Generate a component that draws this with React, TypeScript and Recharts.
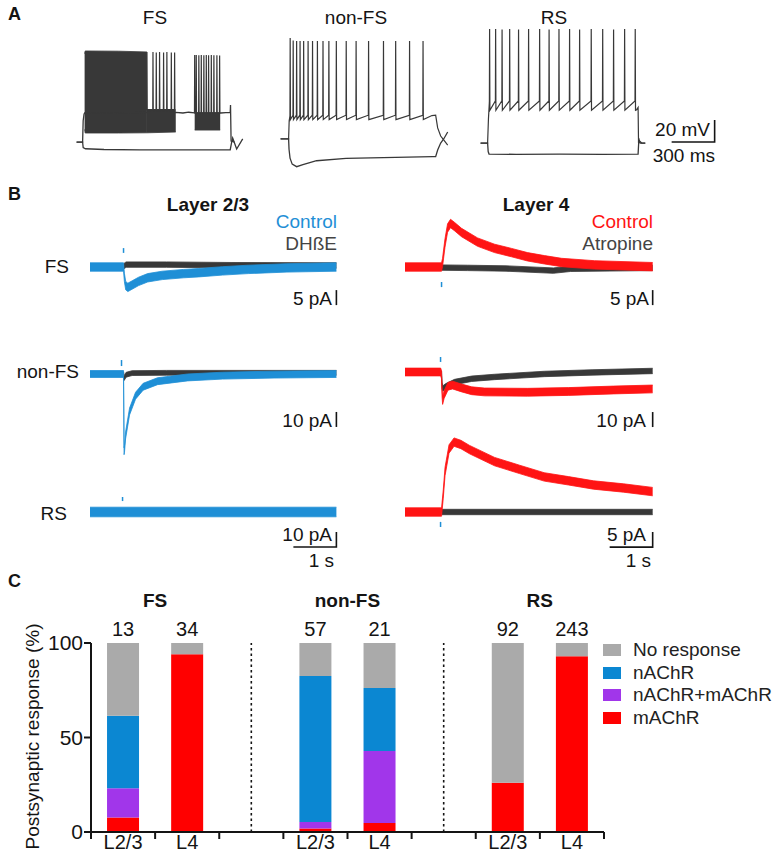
import React from 'react';
import {
  ComposedChart,
  Line,
  Area,
  XAxis,
  YAxis,
  BarChart,
  Bar,
  ReferenceLine,
  Legend,
  LabelList,
} from 'recharts';

const FONT = '"Liberation Sans", Arial, Helvetica, sans-serif';
const INK = '#141414';
const TRACE = '#383838';
const BLUE = '#1f8fd6';
const RED = '#ff1414';

type Pt = { t: number; v: number };
const P = (pairs: number[][]): Pt[] => pairs.map(([t, v]) => ({ t, v }));

// ---------------- Panel A: current-clamp responses (t in ms from step onset, v in mV)
const fsHyper = P([[-42, -71.4], [0, -71.4], [4, -76.5], [20, -77.5], [150, -78.2], [400, -78.6], [700, -78.5], [1030, -78.4], [1040, -71.4], [1047, -67.7], [1075, -77.7], [1117, -68.6]]);
const fsPlateau = P([[-42, -71.4], [0, -71.4], [4, -52], [10, -46], [14, -45], [650, -44.5], [700, -45], [740, -44.3], [782, -44.8], [963, -45], [1000, -44.6], [1030, -44.6], [1032, -37.7], [1036, -70.5], [1060, -71.4]]);
const fsBlockMain = [{ t: 14, lo: -60, hi: 9 }, { t: 18, lo: -63.2, hi: 11.4 }, { t: 250, lo: -63.2, hi: 11.2 }, { t: 449, lo: -63, hi: 10.5 }];
const fsBlockTail = [{ t: 449, lo: -63, hi: -42 }, { t: 650, lo: -62.3, hi: -42 }];
const fsBlockBurst2 = [{ t: 782, lo: -60.5, hi: -45 }, { t: 960, lo: -60.5, hi: -45 }];
const fsLateSpikeTimes = [449, 491, 514, 537, 565, 588, 619, 642];
const fsLateSpikePeaks = [10.5, 10.5, 10, 10.5, 10, 10.5, 10, 10];
const fsBurst2SpikeTimes = [782, 793, 811, 828, 846, 863, 879, 898, 916, 937, 956];
const fsBurst2SpikePeaks = [7.7, 7.7, 7.5, 7.7, 7.5, 7.7, 7.5, 7.7, 7.5, 7.5, 7.3];

const nfsHyper = P([[-56, -68.6], [0, -68.6], [3, -78], [10, -86], [25, -91.5], [56, -93.8], [100, -92], [195, -88.4], [401, -86.2], [747, -85.3], [1005, -84.7], [1026, -84.7], [1040, -78.6], [1061, -72.3], [1082, -68.6], [1110, -62.3]]);
const nfsStart = P([[-56, -68.6], [0, -68.6], [4, -52], [9, -48]]);
const nfsEnd = P([[1000, -47.3], [1026, -47], [1040, -58.6], [1061, -65.9], [1082, -69.5], [1110, -74.1]]);
const nfsSpikeTimes = [11, 32, 56, 80, 105, 136, 167, 201, 240, 281, 333, 402, 471, 558, 662, 747, 844, 938];
const nfsSpikePeaks = [23.2, 21, 20.5, 20.5, 20.5, 20.5, 20.5, 20.5, 20.5, 20.5, 20.5, 20.5, 20.5, 20.5, 20.5, 20.5, 20.5, 20.5];

const rsHyper = P([[-49, -72.3], [0, -72.3], [4, -80], [10, -82.3], [200, -82.6], [500, -82.4], [800, -82.6], [1050, -82.3], [1054, -72.3], [1060, -70.5], [1075, -72.3], [1100, -72.3]]);
const rsStart = P([[-49, -72.3], [0, -72.3], [6, -50], [12, -36]]);
const rsEnd = P([[1040, -42], [1050, -40], [1053, -72.3], [1058, -69.6], [1064, -72.3], [1100, -72.3]]);
const rsSpikeTimes = [14, 56, 101, 154, 216, 286, 363, 429, 498, 572, 642, 723, 803, 879, 956, 1030];
const rsSpikePeaks = [31.4, 31.4, 31, 31.4, 31, 31.4, 31.4, 31, 31.4, 31.4, 31, 31.4, 31.4, 31, 31.4, 31.4];

const scaleBarA = P([[1284, -71.4], [1584, -71.4], [1584, -51.4]]); // 300 ms, 20 mV

// ---------------- Panel B: voltage-clamp currents (t in ms from stimulus, I in pA)
const l23FsControl = P([[-780, 0], [0, 0], [20, -3.5], [50, -6.2], [100, -6.8], [200, -6], [350, -4.8], [560, -3.6], [900, -2.8], [1400, -2.2], [1750, -1.9], [2300, -1.3], [2900, -0.8], [3800, -0.3], [4950, 0]]);
const l23FsDhbe = P([[0, 0.2], [60, 0.8], [1000, 0.8], [2500, 0.6], [4950, 0.5]]);
const l4FsControl = P([[-850, 0], [0, 0], [23, 1.5], [80, 8], [140, 13], [209, 14.5], [300, 13.5], [465, 11.5], [837, 8.3], [1233, 6.2], [1628, 4.8], [2000, 3.4], [2395, 2.4], [2791, 1.5], [3558, 0.7], [4910, 0.1]]);
const l4FsAtropine = P([[0, -0.2], [600, -0.3], [1500, -0.5], [2600, -1.2], [3000, -0.6], [4910, -0.3]]);

const l23NfsControl = P([[-780, 0], [0, 0], [6, -25], [12, -51.5], [22, -50], [47, -41], [140, -25], [279, -14.5], [456, -8.5], [791, -4.8], [1488, -2.3], [2302, -1.1], [3500, -0.4], [4950, 0]]);
const l23NfsDhbe = P([[0, 0], [15, -2.7], [60, -0.5], [200, 0.6], [1000, 0.8], [4950, 0.8]]);
const l4NfsControl = P([[-850, 0], [-20, 0], [0, -2], [12, -14], [25, -19], [60, -15], [150, -9.5], [256, -8.7], [450, -10.5], [700, -12.5], [1000, -13.3], [2000, -13.5], [2950, -13], [4000, -12], [4910, -11.3]]);
const l4NfsAtropine = P([[0, -1], [12, -9], [30, -11], [100, -9.5], [302, -6.7], [700, -4.5], [1233, -3.3], [2395, -1.3], [3500, -0.3], [4910, 0.7]]);

const l23RsControl = P([[-780, 0], [4950, 0]]);
const l4RsControl = P([[-850, 0], [0, 0], [40, 6], [81, 13.5], [174, 21], [291, 23.3], [450, 22.5], [651, 20.8], [1233, 16.8], [1814, 14.2], [2386, 11.7], [2953, 10.4], [3535, 9], [4233, 8], [4910, 6.8]]);
const l4RsAtropine = P([[0, 0], [4910, 0]]);

const stimL23Fs = P([[0, 6.3], [0, 4.7]]);
const stimL4Fs = P([[0, -5], [0, -6.7]]);
const stimL23Nfs = P([[-47, 9.3], [-47, 5.3]]);
const stimL4Nfs = P([[-23, 10], [-23, 6.7]]);
const stimL23Rs = P([[-23, 10], [-23, 7.3]]);
const stimL4Rs = P([[-23, -3.3], [-23, -5]]);

const barL23Fs = P([[4950, -7.7], [4950, -12.7]]);
const barL4Fs = P([[4910, -7.7], [4910, -12.7]]);
const barL23Nfs = P([[4950, -25.3], [4950, -35.3]]);
const barL4Nfs = P([[4910, -26.7], [4910, -36.7]]);
const barL23Rs = P([[3950, -23.3], [4950, -23.3], [4950, -13.3]]);
const barL4Rs = P([[3910, -11.7], [4910, -11.7], [4910, -6.7]]);

// ---------------- Panel C: postsynaptic response (%)
const barGroups = ['FS', 'FS', 'non-FS', 'non-FS', 'RS', 'RS'];
const barLayers = ['L2/3', 'L4', 'L2/3', 'L4', 'L2/3', 'L4'];
const mAChR = [7.7, 94.1, 1.8, 4.8, 26.1, 93.0];
const nAChRmAChR = [15.4, 0, 3.5, 38.1, 0, 0];
const nAChR = [38.4, 0, 77.2, 33.3, 0, 0];
const noResponse = [38.5, 5.9, 17.5, 23.8, 73.9, 7.0];
const cellCounts = [13, 34, 57, 21, 92, 243];
const yTicksC = [0, 50, 100];
const legendOrder = ['No response', 'nAChR', 'nAChR+mAChR', 'mAChR'];

const C_GREY = '#aaaaaa';
const C_BLUE = '#0b87d2';
const C_PURPLE = '#a136ea';
const C_RED = '#ff0000';
const legendColors: Record<string, string> = {
  'No response': C_GREY,
  nAChR: C_BLUE,
  'nAChR+mAChR': C_PURPLE,
  mAChR: C_RED,
};

// ---------- helpers
function spikeTrain(start: Pt[], times: number[], peaks: number[], pre: number, trough: number, end: Pt[]): Pt[] {
  const out: Pt[] = [...start];
  times.forEach((t, i) => {
    out.push({ t: t - 1.5, v: pre }, { t, v: peaks[i] }, { t: t + 2, v: trough });
  });
  return [...out, ...end];
}
function toBand(pts: Pt[], n: number) {
  return pts.map((p) => ({ t: p.t, lo: p.v - n, hi: p.v + n }));
}
const bandKey = (d: any) => [d.lo, d.hi];

type Series = { kind: 'line' | 'band'; data: any[]; color: string; width?: number };

function Trace(props: { ox: number; oy: number; kx: number; ky: number; xd: [number, number]; yd: [number, number]; series: Series[] }) {
  const { ox, oy, kx, ky, xd, yd, series } = props;
  const w = (xd[1] - xd[0]) * kx;
  const h = (yd[1] - yd[0]) * ky;
  const left = ox + xd[0] * kx;
  const top = oy - yd[1] * ky;
  return (
    <div style={{ position: 'absolute', left, top, width: w, height: h }}>
      <ComposedChart width={w} height={h} margin={{ top: 0, right: 0, bottom: 0, left: 0 }}>
        <XAxis type="number" dataKey="t" domain={xd} hide />
        <YAxis type="number" domain={yd} hide />
        {series.map((s, i) =>
          s.kind === 'band' ? (
            <Area
              key={i}
              data={s.data}
              dataKey={bandKey}
              type="linear"
              stroke={s.color}
              strokeWidth={0.8}
              fill={s.color}
              fillOpacity={1}
              dot={false}
              activeDot={false}
              isAnimationActive={false}
            />
          ) : (
            <Line
              key={i}
              data={s.data}
              dataKey="v"
              type="linear"
              stroke={s.color}
              strokeWidth={s.width ?? 1.3}
              dot={false}
              activeDot={false}
              isAnimationActive={false}
            />
          )
        )}
      </ComposedChart>
    </div>
  );
}

// Panel A geometry: 300 ms = 43 px, 20 mV = 22 px
const KX_A = 43 / 300;
const KY_A = 22 / 20;
const YD_A: [number, number] = [-100, 35];
const OY_A = 25 + 35 * KY_A;

// Panel B geometry: 1 s = 43 px; 5 pA = 15 px (FS, L4 RS), 10 pA = 15 px (non-FS, L2/3 RS)
const KX_B = 43 / 1000;
const XD_L23: [number, number] = [-780, 4990];
const XD_L4: [number, number] = [-850, 4950];

// ---------- Panel C bits
type Row = { slot: string; layer: string; group?: string; mAChR?: number; both?: number; nAChR?: number; none?: number; n?: number };
const barRows: Row[] = [];
barLayers.forEach((layer, i) => {
  barRows.push({
    slot: barGroups[i] + ' ' + layer,
    layer,
    group: layer === 'L2/3' ? barGroups[i] : undefined,
    mAChR: mAChR[i],
    both: nAChRmAChR[i],
    nAChR: nAChR[i],
    none: noResponse[i],
    n: cellCounts[i],
  });
  if (i === 1 || i === 3) barRows.push({ slot: 'gap' + i, layer: '' });
});

function SlotTick(props: any) {
  const { x, y, payload, index } = props;
  const half = payload && typeof payload.offset === 'number' && payload.offset > 0 ? payload.offset : 32;
  const row = barRows.find((r) => r.slot === payload.value) || barRows[index];
  const isLast = payload.value === barRows[barRows.length - 1].slot;
  return (
    <g>
      <line x1={x - half} x2={x - half} y1={y} y2={y + 7} stroke={INK} strokeWidth={2} />
      {isLast && <line x1={x + half} x2={x + half} y1={y} y2={y + 7} stroke={INK} strokeWidth={2} />}
      <text x={x} y={y + 17} textAnchor="middle" fontSize={20} fill={INK} fontFamily={FONT}>
        {row ? row.layer : ''}
      </text>
    </g>
  );
}

function GroupTitle(props: any) {
  const { value } = props;
  if (!value) return null;
  const vb = props.viewBox || props;
  const x = Number(vb.x);
  const y = Number(vb.y);
  const width = Number(vb.width);
  return (
    <text x={x + width * 1.5} y={y - 36} textAnchor="middle" fontWeight="bold" fontSize={19} fill={INK} fontFamily={FONT}>
      {value}
    </text>
  );
}

function YLabel(props: any) {
  const vb = props.viewBox || { x: 31, y: 73, width: 60, height: 189 };
  const cx = 39;
  const cy = vb.y + vb.height / 2 - 1;
  return (
    <text x={cx} y={cy} transform={`rotate(-90, ${cx}, ${cy})`} textAnchor="middle" fontSize={19} fill={INK} fontFamily={FONT}>
      Postsynaptic response (%)
    </text>
  );
}

function LegendContent(props: any) {
  const payload: any[] = props.payload || [];
  const items = legendOrder.map((name) => {
    const found = payload.find((p) => p.value === name);
    return { value: name, color: (found && found.color) || legendColors[name] };
  });
  return (
    <div style={{ fontFamily: FONT }}>
      {items.map((it) => (
        <div key={it.value} style={{ display: 'flex', alignItems: 'center', height: 22.5, whiteSpace: 'nowrap' }}>
          <span style={{ display: 'inline-block', width: 18, height: 12, background: it.color, marginRight: 12 }} />
          <span style={{ fontSize: 19, color: '#222', lineHeight: '22.5px' }}>{it.value}</span>
        </div>
      ))}
    </div>
  );
}

function PanelC() {
  return (
    <div style={{ position: 'absolute', left: 0, top: 570, width: 776, height: 283 }}>
      <BarChart width={776} height={283} data={barRows} margin={{ top: 73, right: 172, bottom: 0, left: 31 }} barCategoryGap="25%">
        <XAxis
          dataKey="slot"
          type="category"
          interval={0}
          height={21}
          tickLine={false}
          tickSize={0}
          tickMargin={0}
          axisLine={{ stroke: INK, strokeWidth: 2 }}
          tick={<SlotTick />}
        />
        <YAxis
          type="number"
          domain={[0, 100]}
          ticks={yTicksC}
          width={60}
          tickSize={7}
          tickMargin={1}
          axisLine={{ stroke: INK, strokeWidth: 2 }}
          tickLine={{ stroke: INK, strokeWidth: 2 }}
          tick={{ fontSize: 21, fill: INK, fontFamily: FONT }}
          label={{ content: <YLabel /> }}
        />
        <ReferenceLine x="gap1" stroke={INK} strokeWidth={1.6} strokeDasharray="2.5 3" />
        <ReferenceLine x="gap3" stroke={INK} strokeWidth={1.6} strokeDasharray="2.5 3" />
        <Bar dataKey="mAChR" name="mAChR" stackId="s" fill={C_RED} isAnimationActive={false} />
        <Bar dataKey="both" name="nAChR+mAChR" stackId="s" fill={C_PURPLE} isAnimationActive={false} />
        <Bar dataKey="nAChR" name="nAChR" stackId="s" fill={C_BLUE} isAnimationActive={false} />
        <Bar dataKey="none" name="No response" stackId="s" fill={C_GREY} isAnimationActive={false}>
          <LabelList dataKey="n" position="top" offset={7} fontSize={20} fill={INK} fontFamily={FONT} />
          <LabelList dataKey="group" content={<GroupTitle />} />
        </Bar>
        <Legend
          layout="vertical"
          align="center"
          verticalAlign="middle"
          wrapperStyle={{ left: 603, top: 69, width: 175 }}
          content={<LegendContent />}
        />
      </BarChart>
    </div>
  );
}

function Txt(p: { x: number; y: number; a?: 'start' | 'middle' | 'end'; s?: number; b?: boolean; c?: string; children: React.ReactNode }) {
  return (
    <text x={p.x} y={p.y} textAnchor={p.a || 'start'} fontSize={p.s || 19} fontWeight={p.b ? 'bold' : 'normal'} fill={p.c || INK} fontFamily={FONT}>
      {p.children}
    </text>
  );
}

export default function App() {
  const fsLate = spikeTrain([], fsLateSpikeTimes, fsLateSpikePeaks, -42, -42, []);
  const fsB2 = spikeTrain([], fsBurst2SpikeTimes, fsBurst2SpikePeaks, -45, -45, []);
  const nfsDepol = spikeTrain(nfsStart, nfsSpikeTimes, nfsSpikePeaks, -47, -51, nfsEnd);
  const rsDepol = spikeTrain(rsStart, rsSpikeTimes, rsSpikePeaks, -34, -42.5, rsEnd);

  return (
    <div style={{ position: 'absolute', left: 0, top: 0, width: 776, height: 853, background: '#fff', overflow: 'hidden', fontFamily: FONT }}>
      {/* Panel A */}
      <Trace
        ox={83}
        oy={OY_A}
        kx={KX_A}
        ky={KY_A}
        xd={[-60, 1130]}
        yd={YD_A}
        series={[
          { kind: 'line', data: fsHyper, color: TRACE },
          { kind: 'line', data: fsPlateau, color: TRACE },
          { kind: 'band', data: fsBlockMain, color: TRACE },
          { kind: 'band', data: fsBlockTail, color: TRACE },
          { kind: 'band', data: fsBlockBurst2, color: TRACE },
          { kind: 'line', data: fsLate, color: TRACE, width: 1.2 },
          { kind: 'line', data: fsB2, color: TRACE, width: 1.2 },
        ]}
      />
      <Trace
        ox={289}
        oy={OY_A}
        kx={KX_A}
        ky={KY_A}
        xd={[-60, 1130]}
        yd={YD_A}
        series={[
          { kind: 'line', data: nfsHyper, color: TRACE },
          { kind: 'line', data: nfsDepol, color: TRACE, width: 1.2 },
        ]}
      />
      <Trace
        ox={488}
        oy={OY_A}
        kx={KX_A}
        ky={KY_A}
        xd={[-60, 1620]}
        yd={YD_A}
        series={[
          { kind: 'line', data: rsHyper, color: TRACE },
          { kind: 'line', data: rsDepol, color: TRACE, width: 1.2 },
          { kind: 'line', data: scaleBarA, color: INK, width: 1.6 },
        ]}
      />

      {/* Panel B – FS row */}
      <Trace
        ox={124}
        oy={267}
        kx={KX_B}
        ky={3}
        xd={XD_L23}
        yd={[-15, 20]}
        series={[
          { kind: 'band', data: toBand(l23FsDhbe, 0.9), color: TRACE },
          { kind: 'band', data: toBand(l23FsControl, 1.4), color: BLUE },
          { kind: 'line', data: stimL23Fs, color: BLUE, width: 1.5 },
          { kind: 'line', data: barL23Fs, color: INK, width: 1.6 },
        ]}
      />
      <Trace
        ox={442}
        oy={267}
        kx={KX_B}
        ky={3}
        xd={XD_L4}
        yd={[-15, 20]}
        series={[
          { kind: 'band', data: toBand(l4FsAtropine, 0.9), color: TRACE },
          { kind: 'band', data: toBand(l4FsControl, 1.4), color: RED },
          { kind: 'line', data: stimL4Fs, color: BLUE, width: 1.5 },
          { kind: 'line', data: barL4Fs, color: INK, width: 1.6 },
        ]}
      />
      {/* Panel B – non-FS row */}
      <Trace
        ox={124}
        oy={374}
        kx={KX_B}
        ky={1.5}
        xd={XD_L23}
        yd={[-60, 12]}
        series={[
          { kind: 'band', data: toBand(l23NfsDhbe, 1.6), color: TRACE },
          { kind: 'band', data: toBand(l23NfsControl, 2.3), color: BLUE },
          { kind: 'line', data: stimL23Nfs, color: BLUE, width: 1.5 },
          { kind: 'line', data: barL23Nfs, color: INK, width: 1.6 },
        ]}
      />
      <Trace
        ox={442}
        oy={372}
        kx={KX_B}
        ky={1.5}
        xd={XD_L4}
        yd={[-60, 12]}
        series={[
          { kind: 'band', data: toBand(l4NfsAtropine, 1.8), color: TRACE },
          { kind: 'band', data: toBand(l4NfsControl, 2.6), color: RED },
          { kind: 'line', data: stimL4Nfs, color: BLUE, width: 1.5 },
          { kind: 'line', data: barL4Nfs, color: INK, width: 1.6 },
        ]}
      />
      {/* Panel B – RS row */}
      <Trace
        ox={124}
        oy={512}
        kx={KX_B}
        ky={1.5}
        xd={XD_L23}
        yd={[-30, 20]}
        series={[
          { kind: 'band', data: toBand(l23RsControl, 3.2), color: BLUE },
          { kind: 'line', data: stimL23Rs, color: BLUE, width: 1.5 },
          { kind: 'line', data: barL23Rs, color: INK, width: 1.6 },
        ]}
      />
      <Trace
        ox={442}
        oy={512}
        kx={KX_B}
        ky={3}
        xd={XD_L4}
        yd={[-15, 30]}
        series={[
          { kind: 'band', data: toBand(l4RsAtropine, 0.9), color: TRACE },
          { kind: 'band', data: toBand(l4RsControl, 1.4), color: RED },
          { kind: 'line', data: stimL4Rs, color: BLUE, width: 1.5 },
          { kind: 'line', data: barL4Rs, color: INK, width: 1.6 },
        ]}
      />

      {/* Panel C */}
      <PanelC />

      {/* Text annotations */}
      <svg width={776} height={853} style={{ position: 'absolute', left: 0, top: 0, pointerEvents: 'none' }}>
        <Txt x={8} y={20} s={18} b>A</Txt>
        <Txt x={155} y={24} a="middle">FS</Txt>
        <Txt x={356} y={24} a="middle">non-FS</Txt>
        <Txt x={554} y={24} a="middle">RS</Txt>
        <Txt x={710} y={136} a="end">20 mV</Txt>
        <Txt x={715} y={162} a="end">300 ms</Txt>

        <Txt x={8} y={200} s={18} b>B</Txt>
        <Txt x={208} y={211} a="middle" b>Layer 2/3</Txt>
        <Txt x={536} y={211} a="middle" b>Layer 4</Txt>
        <Txt x={337} y={228} a="end" c={BLUE}>Control</Txt>
        <Txt x={337} y={250} a="end" c="#444">DHßE</Txt>
        <Txt x={653} y={228} a="end" c={RED}>Control</Txt>
        <Txt x={653} y={250} a="end" c="#444">Atropine</Txt>
        <Txt x={69} y={273} a="end">FS</Txt>
        <Txt x={79} y={378} a="end">non-FS</Txt>
        <Txt x={67} y={520} a="end">RS</Txt>
        <Txt x={332} y={305} a="end">5 pA</Txt>
        <Txt x={649} y={305} a="end">5 pA</Txt>
        <Txt x={332} y={427} a="end">10 pA</Txt>
        <Txt x={646} y={427} a="end">10 pA</Txt>
        <Txt x={332} y={541} a="end">10 pA</Txt>
        <Txt x={646} y={541} a="end">5 pA</Txt>
        <Txt x={334} y={567} a="end">1 s</Txt>
        <Txt x={651} y={567} a="end">1 s</Txt>

        <Txt x={8} y={587} s={18} b>C</Txt>
      </svg>
    </div>
  );
}
